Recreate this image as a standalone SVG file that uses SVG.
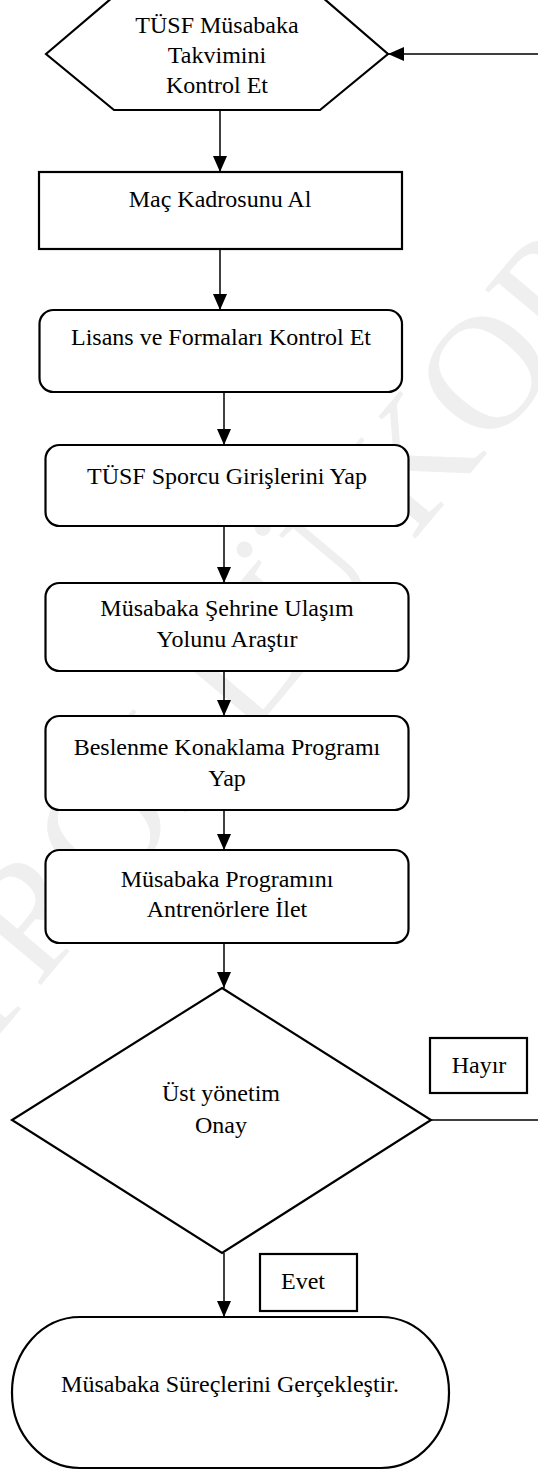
<svg xmlns="http://www.w3.org/2000/svg" width="538" height="1471" viewBox="0 0 538 1471">
<style>
.shape{fill:#fff;stroke:#000;stroke-width:2.2}
.conn{fill:none;stroke:#000;stroke-width:1.5}
.lbl{font-family:"Liberation Serif","Times New Roman",serif;font-size:24px;fill:#000;text-anchor:middle}
.wm{font-family:"Liberation Serif","Times New Roman",serif;font-size:163px;fill:#efefef;text-anchor:middle}
</style>
<defs>
<marker id="ah" markerUnits="userSpaceOnUse" markerWidth="16" markerHeight="14" viewBox="0 0 16 14" refX="16" refY="7" orient="auto">
<path d="M0,0 L16,7 L0,14 z" fill="#000"/>
</marker>
</defs>
<rect x="0" y="0" width="538" height="1471" fill="#fff"/>
<text class="wm" x="254" y="731" transform="rotate(-50 254 731)">KONTROLLÜ KOPYA</text>

<g id="connectors">
<line class="conn" x1="220" y1="110" x2="220" y2="172" marker-end="url(#ah)"/>
<line class="conn" x1="220" y1="249" x2="220" y2="310" marker-end="url(#ah)"/>
<line class="conn" x1="224" y1="392" x2="224" y2="445" marker-end="url(#ah)"/>
<line class="conn" x1="224" y1="526" x2="224" y2="583" marker-end="url(#ah)"/>
<line class="conn" x1="224" y1="671" x2="224" y2="716" marker-end="url(#ah)"/>
<line class="conn" x1="224" y1="810" x2="224" y2="850" marker-end="url(#ah)"/>
<line class="conn" x1="224" y1="943" x2="224" y2="988" marker-end="url(#ah)"/>
<line class="conn" x1="224" y1="1253" x2="224" y2="1317" marker-end="url(#ah)"/>
<path class="conn" d="M431,1120 H545 V54 H388" marker-end="url(#ah)"/>
</g>

<g id="n1">
<polygon class="shape" points="46,54 113,-3 322,-3 388,54 320,110 114,110"/>
<text class="lbl" x="217" y="33">TÜSF Müsabaka</text>
<text class="lbl" x="217" y="63">Takvimini</text>
<text class="lbl" x="217" y="93">Kontrol Et</text>
</g>
<g id="n2">
<rect class="shape" x="39" y="172" width="363" height="77"/>
<text class="lbl" x="220" y="207">Maç Kadrosunu Al</text>
</g>
<g id="n3">
<rect class="shape" x="39.5" y="310" width="362.5" height="82" rx="14"/>
<text class="lbl" x="221" y="345">Lisans ve Formaları Kontrol Et</text>
</g>
<g id="n4">
<rect class="shape" x="45.5" y="445" width="363" height="81" rx="14"/>
<text class="lbl" x="227" y="484">TÜSF Sporcu Girişlerini Yap</text>
</g>
<g id="n5">
<rect class="shape" x="45.5" y="583" width="363" height="88" rx="14"/>
<text class="lbl" x="227" y="616">Müsabaka Şehrine Ulaşım</text>
<text class="lbl" x="227" y="647">Yolunu Araştır</text>
</g>
<g id="n6">
<rect class="shape" x="45.5" y="716" width="363" height="94" rx="14"/>
<text class="lbl" x="227" y="755">Beslenme Konaklama Programı</text>
<text class="lbl" x="227" y="786">Yap</text>
</g>
<g id="n7">
<rect class="shape" x="45.5" y="850" width="363" height="93" rx="14"/>
<text class="lbl" x="227" y="887">Müsabaka Programını</text>
<text class="lbl" x="227" y="917">Antrenörlere İlet</text>
</g>
<g id="n8">
<polygon class="shape" points="222,988 431,1120 222,1253 12,1120"/>
<text class="lbl" x="221" y="1101">Üst yönetim</text>
<text class="lbl" x="221" y="1133">Onay</text>
</g>
<g id="lbl-hayir">
<rect class="shape" x="430" y="1038" width="97" height="55"/>
<text class="lbl" x="479" y="1073">Hayır</text>
</g>
<g id="lbl-evet">
<rect class="shape" x="260" y="1254" width="97" height="57"/>
<text class="lbl" x="303" y="1289">Evet</text>
</g>
<g id="n9">
<rect class="shape" x="12" y="1317" width="437" height="151" rx="68" ry="75"/>
<text class="lbl" x="230" y="1392">Müsabaka Süreçlerini Gerçekleştir.</text>
</g>
</svg>
